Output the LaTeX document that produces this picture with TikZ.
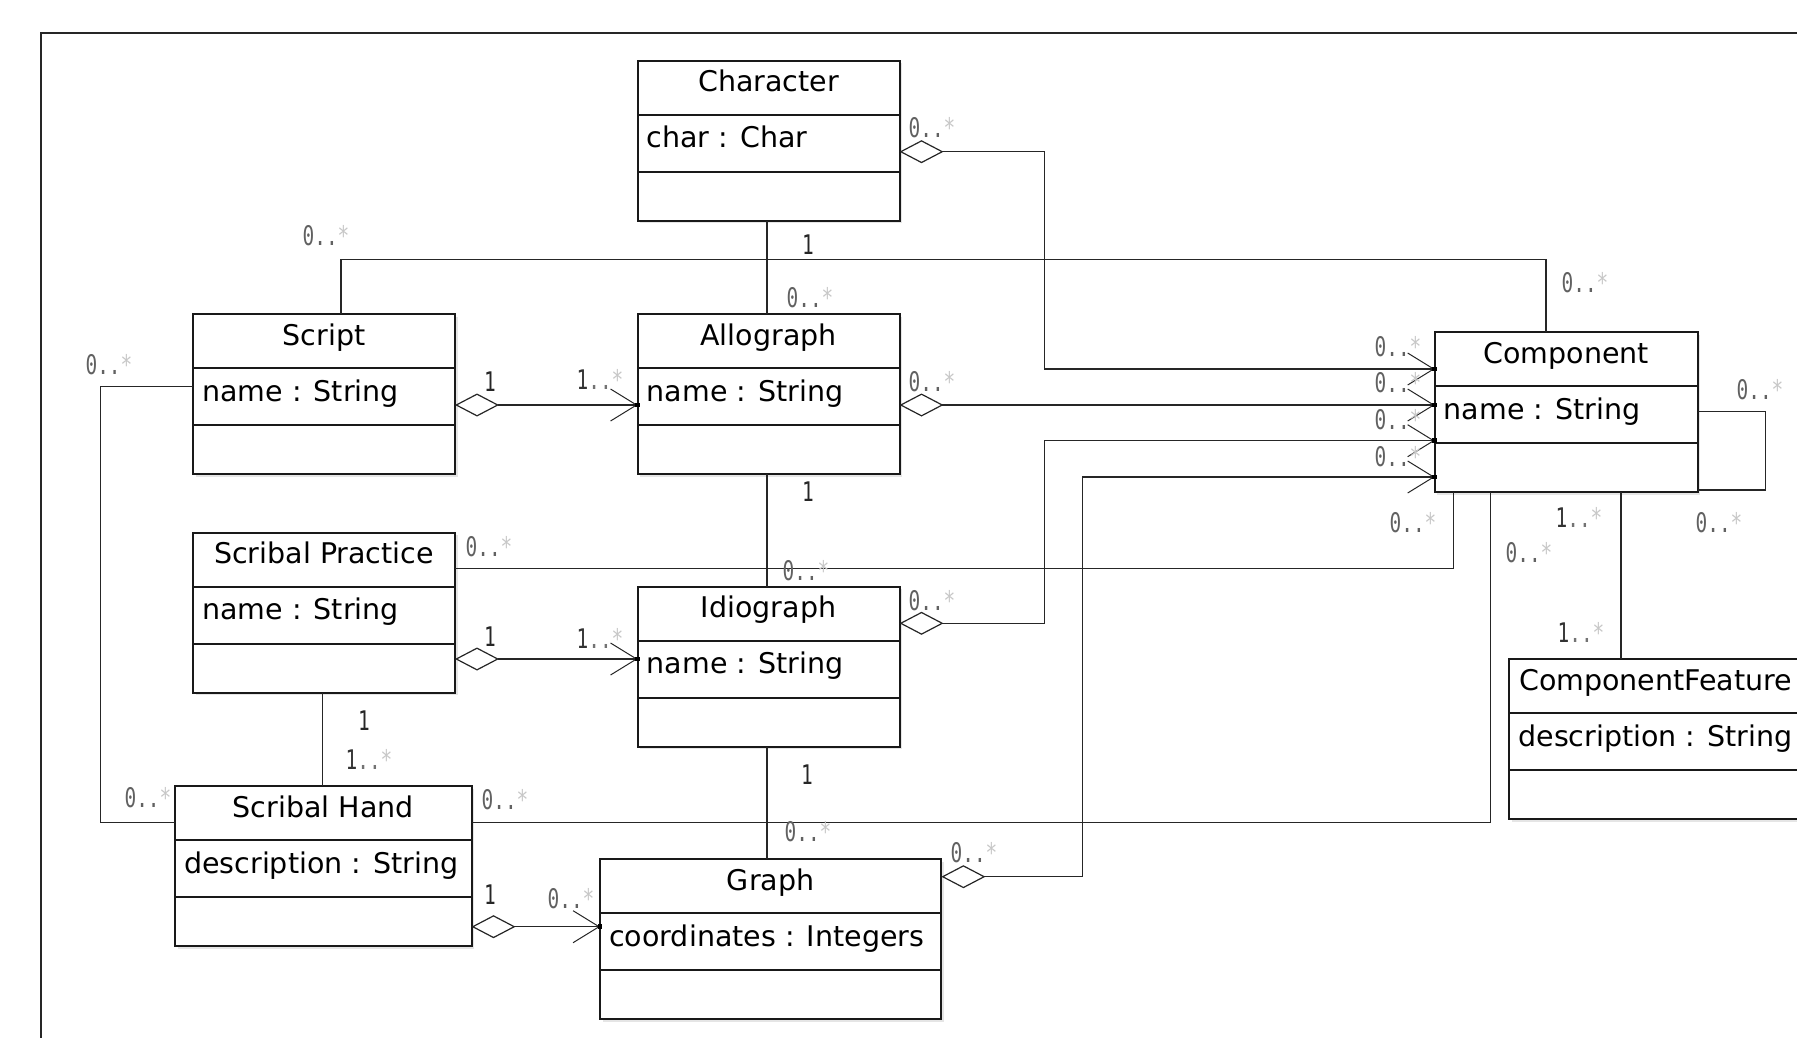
\documentclass[tikz,border=0pt]{standalone}
\usepackage{fontspec}
\setmainfont{DejaVu Sans}
\newfontfamily\monofam{DejaVu Sans Mono}
\usetikzlibrary{arrows.meta,calc,shadows}

\newcommand\mZero{\scalebox{0.72}[1]{\textcolor{black!62}{0..}\textcolor{black!22}{*}}}
\newcommand\mOneMany{\scalebox{0.72}[1]{\textcolor{black!80}{1}\textcolor{black!55}{..}\textcolor{black!22}{*}}}
\newcommand\mOne{\scalebox{0.72}[1]{\textcolor{black!85}{1}}}

\tikzset{
  classbox/.style={draw=black!90, line width=2pt, fill=white, inner sep=0pt, outer sep=0pt,
    anchor=north west, minimum height=160pt,
    drop shadow={opacity=0.2, shadow xshift=2.5pt, shadow yshift=-2.5pt}},
  sepline/.style={line width=2pt, draw=black!90},
  ctitle/.style={font=\fontsize{28.5}{30}\selectfont, anchor=base, inner sep=0pt, text=black},
  cattr/.style={font=\fontsize{28.5}{30}\selectfont, anchor=base west, inner sep=0pt, text=black},
  conn/.style={line width=1.3pt, draw=black!85},
  agg/.style={conn, {Diamond[open, length=44pt, width=23pt, line width=1.2pt]}-{Straight Barb[length=26pt, width=32pt, line width=1pt]}},
  tipdot/.style={fill=black, inner sep=0pt, minimum size=4.5pt, rectangle},
  mult/.style={font=\monofam\fontsize{27}{27}\selectfont, inner sep=0pt, anchor=center},
  frame/.style={line width=2pt, draw=black!85},
}

\newcommand\umlclass[6]{%
  \node[classbox, minimum width=#4pt] (#1) at (#2,#3) {};
  \draw[sepline] ($(#1.north west)+(0,54)$) -- ($(#1.north east)+(0,54)$);
  \draw[sepline] ($(#1.north west)+(0,111)$) -- ($(#1.north east)+(0,111)$);
  \node[ctitle] (#1-t) at ($(#1.north)+(0,31)$) {#5};
  \node[cattr] (#1-a) at ($(#1.north west)+(9,87)$) {#6};
}

\begin{document}
\begin{tikzpicture}[x=1pt, y=-1pt]
\useasboundingbox (0,0) rectangle (1797,1037);
\fill[white] (0,0) rectangle (1797,1037);
\draw[frame] (41,33.3) rectangle (1880,1100);

% classes
\umlclass{char}{637.5}{60.7}{262}{Character}{char : Char}
\umlclass{script}{193}{314}{262}{Script}{name : String}
\umlclass{allo}{637.5}{314}{262}{Allograph}{name : String}
\umlclass{sp}{193}{532.7}{262}{Scribal Practice}{name : String}
\umlclass{idio}{637.5}{586.7}{262}{Idiograph}{name : String}
\umlclass{sh}{175}{786}{296.5}{Scribal Hand}{description : String}
\umlclass{graph}{600}{859}{341.4}{Graph}{coordinates : Integers}
\umlclass{comp}{1434.6}{332}{263}{Component}{name : String}
\umlclass{cf}{1509.2}{659.3}{293}{ComponentFeature}{description : String}

% associations
\draw[conn] ($(script.north west)+(148,0)$) -- ++(0,-54.7) -| ($(comp.north west)+(111.4,0)$);
\draw[conn] ($(char.south west)+(129.5,0)$) -- ($(allo.north west)+(129.5,0)$);
\draw[conn] ($(allo.south west)+(129.5,0)$) -- ($(idio.north west)+(129.5,0)$);
\draw[conn] ($(idio.south west)+(129.5,0)$) -- ($(graph.north west)+(167,0)$);
\draw[conn] ($(sp.north east)+(0,35.6)$) -| ($(comp.south west)+(18.7,0)$);
\draw[conn] ($(sp.south west)+(129.6,0)$) -- ($(sh.north west)+(147.6,0)$);
\draw[conn] ($(script.north west)+(0,72.7)$) -- ++(-92.4,0) |- ($(sh.north west)+(0,36.3)$);
\draw[conn] ($(sh.north east)+(0,36.3)$) -| ($(comp.south west)+(56.2,0)$);
\draw[conn] ($(comp.north east)+(0,79.7)$) -- ++(68,0) |- ($(comp.south east)+(0,-2)$);
\draw[conn] ($(comp.south west)+(186.4,0)$) -- ($(cf.north west)+(111.8,0)$);

% aggregations
\draw[agg] ($(char.north east)+(0,91)$) -- ++(145,0) |- ($(comp.north west)+(0,37)$) node[tipdot] (t1) {};
\draw[agg] ($(script.north east)+(0,91)$) -- ($(allo.north west)+(0,91)$) node[tipdot] (t2) {};
\draw[agg] ($(allo.north east)+(0,91)$) -- ($(comp.north west)+(0,73)$) node[tipdot] (t3) {};
\draw[agg] ($(idio.north east)+(0,36.6)$) -- ++(145,0) |- ($(comp.north west)+(0,108.7)$) node[tipdot] (t4) {};
\draw[agg] ($(graph.north east)+(0,17.7)$) -- ++(140.8,0) |- ($(comp.north west)+(0,145)$) node[tipdot] (t5) {};
\draw[agg] ($(sp.north east)+(0,126.3)$) -- ($(idio.north west)+(0,72.3)$) node[tipdot] (t6) {};
\draw[agg] ($(sh.north east)+(0,140.7)$) -- ($(graph.north west)+(0,67.7)$) node[tipdot] (t7) {};

% multiplicities
\node[mult] (m1) at (326,236) {\mZero};
\node[mult] (m2) at (1585,283) {\mZero};
\node[mult] (m3) at (808,245) {\mOne};
\node[mult] (m4) at (810,298) {\mZero};
\node[mult] (m5) at (932,128) {\mZero};
\node[mult] (m6) at (1398,347) {\mZero};
\node[mult] (m7) at (490,382) {\mOne};
\node[mult] (m8) at (600,379) {\mOneMany};
\node[mult] (m9) at (932,382) {\mZero};
\node[mult] (m10) at (1398,383) {\mZero};
\node[mult] (m11) at (808,492) {\mOne};
\node[mult] (m12) at (806,571) {\mZero};
\node[mult] (m13) at (932,601) {\mZero};
\node[mult] (m14) at (1398,420) {\mZero};
\node[mult] (m15) at (974,853) {\mZero};
\node[mult] (m16) at (1398,457) {\mZero};
\node[mult] (m17) at (489,547) {\mZero};
\node[mult] (m18) at (1413,523) {\mZero};
\node[mult] (m19) at (490,637) {\mOne};
\node[mult] (m20) at (600,638) {\mOneMany};
\node[mult] (m21) at (364,721) {\mOne};
\node[mult] (m22) at (369,759) {\mOneMany};
\node[mult] (m23) at (109,365) {\mZero};
\node[mult] (m24) at (148,798) {\mZero};
\node[mult] (m25) at (505,800) {\mZero};
\node[mult] (m26) at (1529,553) {\mZero};
\node[mult] (m27) at (490,895) {\mOne};
\node[mult] (m28) at (571,899) {\mZero};
\node[mult] (m29) at (807,775) {\mOne};
\node[mult] (m30) at (808,832) {\mZero};
\node[mult] (m31) at (1760,390) {\mZero};
\node[mult] (m32) at (1719,523) {\mZero};
\node[mult] (m33) at (1579,517) {\mOneMany};
\node[mult] (m34) at (1581,632) {\mOneMany};
\end{tikzpicture}
\end{document}
